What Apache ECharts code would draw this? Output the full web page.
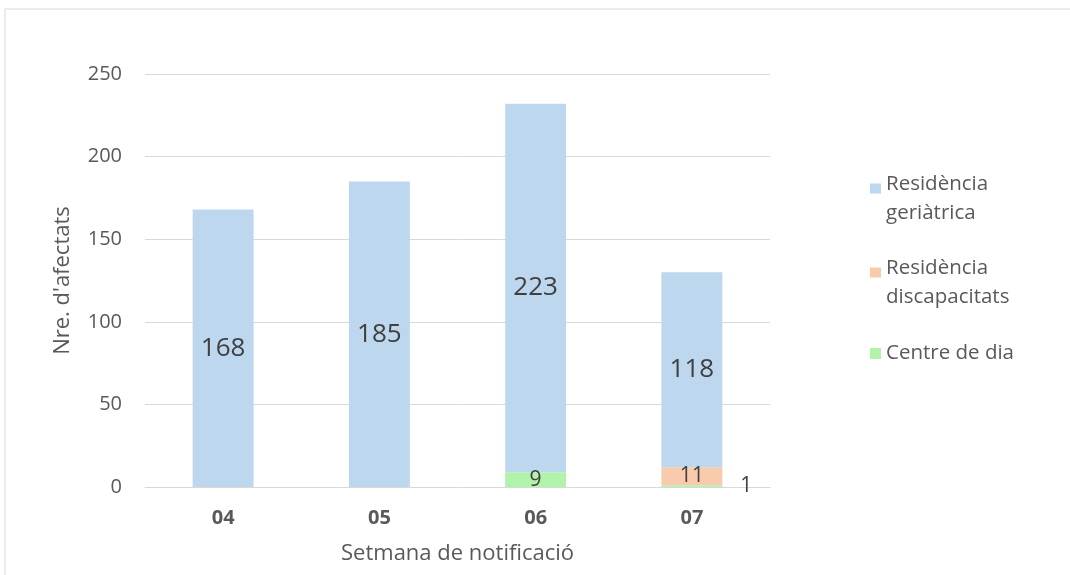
<!DOCTYPE html>
<html>
<head>
<meta charset="utf-8">
<script src="https://cdn.jsdelivr.net/npm/echarts@6/dist/echarts.min.js"></script>
<style>
  html, body { margin: 0; padding: 0; background: #fff; }
  #chart { width: 1070px; height: 575px; }
</style>
</head>
<body>
<div id="chart"></div>
<script>
const weeks = ['04', '05', '06', '07']
const geriatrica = [168, 185, 223, 118]
const discapacitats = [null, null, null, 11]
const centreDia = [null, null, 9, 1]

const textColor = '#595959'
const labelColor = '#404040'
const font = 'Open Sans'

// square drawn near the first text line, box padded to 11x40
const topSquare = 'path://M0,0h0.01v0.01h-0.01Z M0,4.5H11V14.5H0Z M11,40h-0.01v-0.01h0.01Z'

const chart = echarts.init(document.getElementById('chart'))

chart.setOption({
  animation: false,
  textStyle: { fontFamily: font },
  graphic: [
    {
      type: 'rect',
      shape: { x: 5, y: 9, width: 1080, height: 600 },
      style: { fill: 'none', stroke: '#d9d9d9', lineWidth: 1 }
    }
  ],
  grid: { left: 145, right: 300, top: 74, bottom: 88 },
  legend: [
    {
      orient: 'vertical',
      left: 865,
      top: 165,
      itemWidth: 11,
      itemHeight: 40,
      itemGap: 26,
      icon: topSquare,
      textStyle: { color: textColor, fontSize: 20.5, lineHeight: 29, fontFamily: font },
      data: ['Residència\ngeriàtrica', 'Residència\ndiscapacitats']
    },
    {
      orient: 'vertical',
      left: 865,
      top: 334,
      itemWidth: 11,
      itemHeight: 11,
      icon: 'rect',
      textStyle: { color: textColor, fontSize: 20.5, lineHeight: 29, fontFamily: font },
      data: ['Centre de dia']
    }
  ],
  xAxis: {
    type: 'category',
    data: weeks,
    name: 'Setmana de notificació',
    nameLocation: 'middle',
    nameGap: 56,
    nameTextStyle: { color: textColor, fontSize: 22 },
    axisLine: { lineStyle: { color: '#d9d9d9' } },
    axisTick: { show: false },
    axisLabel: { color: textColor, fontSize: 20, fontWeight: 'bold', margin: 21 }
  },
  yAxis: {
    type: 'value',
    min: 0,
    max: 250,
    interval: 50,
    name: "Nre. d'afectats",
    nameLocation: 'middle',
    nameGap: 71,
    nameTextStyle: { color: textColor, fontSize: 22 },
    axisLine: { show: false },
    axisTick: { show: false },
    axisLabel: { color: textColor, fontSize: 20, margin: 23 },
    splitLine: { lineStyle: { color: '#d9d9d9' } }
  },
  series: [
    {
      name: 'Centre de dia',
      type: 'bar',
      stack: 'total',
      barWidth: '39%',
      data: centreDia.map((v, i) =>
        i === 3 ? { value: v, label: { position: 'right', distance: 18 } } : v
      ),
      itemStyle: { color: '#b1f3aa' },
      label: { show: true, position: 'inside', color: labelColor, fontSize: 21 }
    },
    {
      name: 'Residència\ndiscapacitats',
      type: 'bar',
      stack: 'total',
      data: discapacitats,
      itemStyle: { color: '#f8cbad' },
      label: { show: true, position: 'inside', color: labelColor, fontSize: 21 }
    },
    {
      name: 'Residència\ngeriàtrica',
      type: 'bar',
      stack: 'total',
      data: geriatrica,
      itemStyle: { color: '#bdd7ee' },
      label: { show: true, position: 'inside', color: labelColor, fontSize: 26 }
    }
  ]
})
</script>
</body>
</html>
